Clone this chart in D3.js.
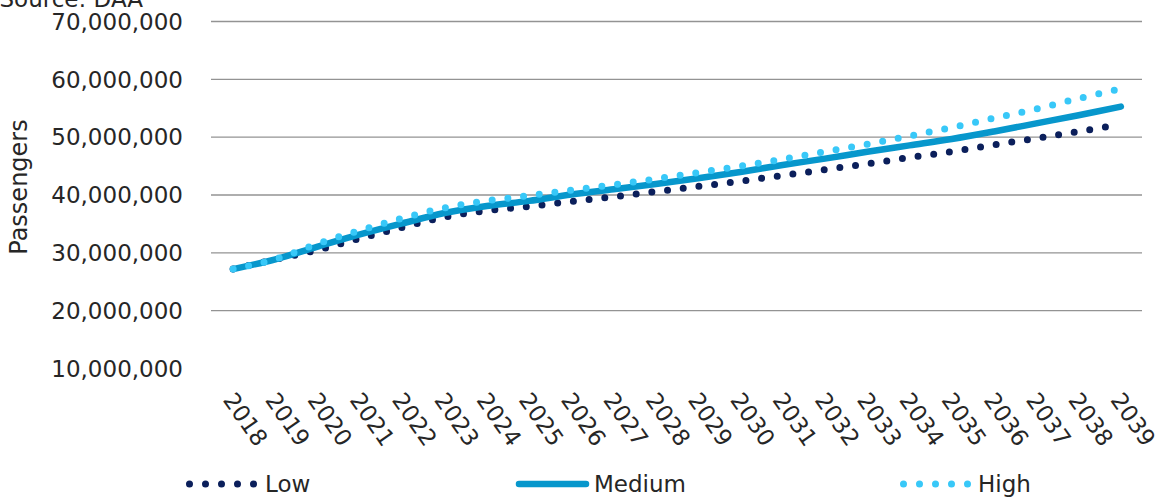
<!DOCTYPE html>
<html>
<head>
<meta charset="utf-8">
<script src="https://cdn.jsdelivr.net/npm/d3@7"></script>
<style>
  html, body { margin: 0; padding: 0; background: #fff; }
  svg { display: block; font-family: "DejaVu Sans", sans-serif; }
</style>
</head>
<body>
<svg id="chart" width="1162" height="499"></svg>
<script>
// ---- data (millions of passengers) ----
const years = ["2018","2019","2020","2021","2022","2023","2024","2025","2026","2027","2028","2029","2030","2031","2032","2033","2034","2035","2036","2037","2038","2039"];
const lowValues    = [27.1, 28.8, 30.4, 32.4, 34.3, 36.1, 37.2, 37.95, 38.8, 39.6, 40.5, 41.4, 42.3, 43.3, 44.3, 45.3, 46.4, 47.4, 48.6, 49.7, 50.9, 52.1];
const mediumValues = [27.1, 28.8, 31.0, 33.1, 35.0, 36.8, 38.0, 38.9, 40.0, 40.9, 41.8, 42.8, 43.9, 45.1, 46.2, 47.4, 48.5, 49.6, 50.9, 52.3, 53.7, 55.2];
const highValues   = [27.1, 28.8, 31.5, 33.8, 35.9, 37.7, 38.9, 39.8, 40.75, 41.7, 42.7, 43.8, 44.9, 46.1, 47.4, 48.7, 50.1, 51.6, 53.2, 54.8, 56.6, 58.3];
const yTicks = [10000000, 20000000, 30000000, 40000000, 50000000, 60000000, 70000000];
const seriesNames = ["Low", "Medium", "High"];

const colors = { Low: "#0b1f5b", Medium: "#0797cc", High: "#38c8f8" };
const textColor = "#262626";

const svg = d3.select("#chart");
const plotLeft = 212, plotRight = 1142, plotTop = 21, plotBottom = 368;

const x = d3.scaleBand().domain(years).range([plotLeft, plotRight]).padding(0);
const y = d3.scaleLinear().domain([10000000, 70000000]).range([plotBottom, plotTop]);
const cx = d => x(d) + x.bandwidth() / 2;

// source text (cut off at top, as in the original)
svg.append("text").attr("x", 143).attr("y", 7).attr("text-anchor", "end")
  .attr("font-size", 23).attr("fill", textColor).text("Source: DAA");

// gridlines
const grid = svg.append("g").attr("transform", `translate(${plotLeft - 1},0)`)
  .call(d3.axisLeft(y).tickValues(yTicks.filter(t => t > 10000000)).tickSize(-(plotRight - plotLeft + 1)).tickFormat(""));
grid.select(".domain").remove();
grid.selectAll("line").attr("stroke", "#939393").attr("stroke-width", 1.4);

// y axis labels
const yAxis = svg.append("g").attr("transform", `translate(183,0)`)
  .call(d3.axisLeft(y).tickValues(yTicks).tickSize(0).tickPadding(0).tickFormat(d3.format(",")));
yAxis.select(".domain").remove();
yAxis.selectAll("text").attr("font-size", 23).attr("fill", textColor)
  .attr("font-family", "DejaVu Sans").attr("dy", "0.36em");

// y axis title
svg.append("text").attr("transform", "translate(27,187) rotate(-90)")
  .attr("text-anchor", "middle").attr("font-size", 24).attr("fill", textColor).text("Passengers");

// x axis labels
const xAxis = svg.append("g").attr("transform", `translate(0,${plotBottom})`)
  .call(d3.axisBottom(x).tickSize(0).tickPadding(0));
xAxis.select(".domain").remove();
xAxis.selectAll("text")
  .attr("font-size", 23).attr("fill", textColor).attr("font-family", "DejaVu Sans")
  .attr("text-anchor", "start").attr("x", 0).attr("y", 0).attr("dy", 0)
  .attr("transform", "translate(-11,32) rotate(55)");

// lines
const line = d3.line().x((d, i) => cx(years[i])).y(d => y(d * 1e6)).curve(d3.curveCatmullRom.alpha(0.5));
const dotStyle = sel => sel.attr("stroke-width", 7).attr("stroke-linecap", "round").attr("stroke-dasharray", "0 15.8").attr("fill", "none");

svg.append("path").datum(lowValues).attr("d", line).attr("stroke", colors.Low).call(dotStyle);
svg.append("path").datum(mediumValues).attr("d", line).attr("stroke", colors.Medium)
  .attr("stroke-width", 6.5).attr("stroke-linecap", "round").attr("fill", "none");
svg.append("path").datum(highValues).attr("d", line).attr("stroke", colors.High).call(dotStyle);

// legend
const legendItems = [
  { name: "Low", x0: 189.5, x1: 254, tx: 265 },
  { name: "Medium", x0: 519, x1: 586, tx: 594 },
  { name: "High", x0: 903.5, x1: 968, tx: 978 }
];
const ly = 484;
legendItems.forEach(it => {
  const p = svg.append("line").attr("x1", it.x0).attr("x2", it.x1).attr("y1", ly).attr("y2", ly)
    .attr("stroke", colors[it.name]);
  if (it.name === "Medium") p.attr("stroke-width", 6.5).attr("stroke-linecap", "round");
  else p.attr("stroke-width", 7).attr("stroke-linecap", "round").attr("stroke-dasharray", "0 16");
  svg.append("text").attr("x", it.tx).attr("y", ly).attr("dy", "0.36em")
    .attr("font-size", 23).attr("fill", textColor).text(it.name);
});
</script>
</body>
</html>
